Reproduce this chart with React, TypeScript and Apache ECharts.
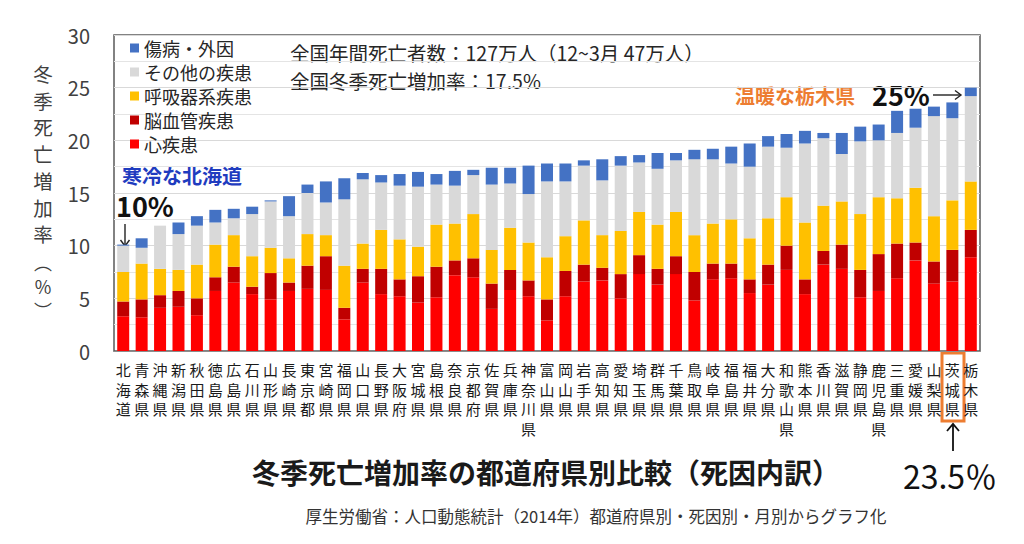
import React, { useEffect, useRef } from "react";
import * as echarts from "echarts";

const prefectures = [
  "北海道", "青森県", "沖縄県", "新潟県", "秋田県", "徳島県", "広島県", "石川県", "山形県", "長崎県",
  "東京都", "宮崎県", "福岡県", "山口県", "長野県", "大阪府", "宮城県", "島根県", "奈良県", "京都府",
  "佐賀県", "兵庫県", "神奈川県", "富山県", "岡山県", "岩手県", "高知県", "愛知県", "埼玉県", "群馬県",
  "千葉県", "鳥取県", "岐阜県", "福島県", "福井県", "大分県", "和歌山県", "熊本県", "香川県", "滋賀県",
  "静岡県", "鹿児島県", "三重県", "愛媛県", "山梨県", "茨城県", "栃木県",
];

// 心疾患
const heart = [
  3.3, 3.2, 4.1, 4.2, 3.4, 5.7, 6.5, 5.4, 4.9, 5.7,
  5.9, 5.8, 3.0, 6.5, 5.4, 5.2, 4.6, 5.1, 7.2, 7.0,
  4.0, 5.8, 5.2, 2.9, 5.2, 6.6, 6.7, 5.0, 7.3, 6.3,
  7.3, 4.8, 6.8, 6.9, 5.5, 6.3, 7.7, 5.4, 8.2, 7.8,
  5.1, 5.7, 6.9, 8.6, 6.4, 6.6, 8.9,
];
// 脳血管疾患
const cerebro = [
  1.4, 1.7, 1.2, 1.5, 1.6, 1.3, 1.5, 0.7, 2.5, 0.8,
  2.2, 3.2, 1.1, 1.3, 2.4, 1.6, 2.5, 2.9, 1.4, 1.8,
  2.4, 1.9, 1.5, 2.0, 2.4, 1.6, 1.2, 2.3, 1.8, 1.5,
  1.7, 2.7, 1.5, 1.4, 1.3, 1.9, 2.3, 1.4, 1.3, 2.3,
  2.6, 3.5, 3.3, 1.7, 2.1, 3.0, 2.6,
];
// 呼吸器系疾患
const respiratory = [
  2.8, 3.4, 2.5, 2.0, 3.2, 3.1, 3.0, 2.9, 2.4, 2.3,
  3.0, 2.0, 4.0, 2.4, 3.7, 3.8, 2.8, 4.0, 3.5, 4.2,
  3.2, 4.0, 3.6, 4.0, 3.3, 4.2, 3.1, 4.1, 4.1, 4.2,
  4.2, 3.5, 3.8, 4.2, 3.9, 4.4, 4.6, 5.4, 4.3, 4.1,
  5.3, 5.4, 4.3, 5.2, 4.3, 4.7, 4.6,
];
// その他の疾患
const other = [
  2.5, 1.5, 4.1, 3.4, 3.7, 2.1, 1.6, 4.0, 4.4, 4.0,
  3.9, 3.1, 6.3, 6.1, 4.5, 5.1, 5.7, 3.8, 3.6, 3.7,
  6.2, 4.2, 4.6, 7.2, 5.2, 5.2, 5.2, 6.2, 4.7, 5.3,
  4.9, 7.2, 6.1, 5.3, 6.8, 6.8, 4.7, 7.5, 6.4, 4.5,
  6.9, 5.4, 6.2, 5.7, 9.5, 7.8, 8.1,
];
// 傷病・外因
const injury = [
  0.1, 0.9, 0.0, 1.1, 0.9, 1.2, 0.9, 0.7, 0.1, 1.9,
  0.8, 2.0, 2.0, 0.6, 0.7, 1.1, 1.4, 1.0, 1.4, 0.5,
  1.6, 1.5, 2.7, 1.7, 1.7, 0.5, 2.0, 0.9, 0.7, 1.5,
  0.7, 0.9, 1.0, 1.6, 2.2, 1.0, 1.3, 1.2, 0.5, 2.0,
  1.4, 1.5, 2.1, 1.8, 0.9, 1.5, 0.8,
];

const seriesNames = ["心疾患", "脳血管疾患", "呼吸器系疾患", "その他の疾患", "傷病・外因"];
const seriesColors = ["#ff0000", "#c00000", "#ffc000", "#d9d9d9", "#4472c4"];
const legendOrder = ["傷病・外因", "その他の疾患", "呼吸器系疾患", "脳血管疾患", "心疾患"];
const yAxisNameChars = ["冬", "季", "死", "亡", "増", "加", "率"];

const FONT = '"Noto Sans CJK JP", "Noto Sans", sans-serif';

function txt(x: number, y: number, text: string, opts: any = {}) {
  const align = opts.align || "left";
  const valign = opts.valign || "middle";
  return {
    type: "text",
    x,
    y,
    silent: true,
    style: {
      text,
      fontSize: opts.fontSize || 16,
      fontWeight: opts.fontWeight || "normal",
      fontFamily: FONT,
      fill: opts.fill || "#262626",
      align,
      verticalAlign: valign,
      textAlign: align,
      textVerticalAlign: valign,
      lineHeight: opts.lineHeight,
    },
  };
}

function line(x1: number, y1: number, x2: number, y2: number, color = "#111", w = 1.6) {
  return {
    type: "line",
    silent: true,
    shape: { x1, y1, x2, y2 },
    style: { stroke: color, lineWidth: w },
  };
}

function poly(points: number[][], color = "#111", w = 1.6) {
  return {
    type: "polyline",
    silent: true,
    shape: { points },
    style: { stroke: color, lineWidth: w, fill: "none" },
  };
}

export default function App() {
  const ref = useRef<HTMLDivElement>(null);

  useEffect(() => {
    if (!ref.current) return;
    const chart = echarts.init(ref.current, null, { renderer: "svg" });
    const data = [heart, cerebro, respiratory, other, injury];

    const yNameEls = yAxisNameChars.map((c, i) =>
      txt(43, 73.5 + i * 26.7, c, { fontSize: 19.5, align: "center", fill: "#404040" })
    );

    const option: any = {
      animation: false,
      backgroundColor: "#ffffff",
      textStyle: { fontFamily: FONT },
      grid: {
        left: 114,
        right: 44,
        top: 35,
        bottom: 193,
        show: true,
        borderColor: "#595959",
        borderWidth: 1.5,
        containLabel: false,
      },
      legend: {
        data: legendOrder,
        orient: "vertical",
        left: 125,
        top: 34,
        icon: "rect",
        itemWidth: 9,
        itemHeight: 9,
        itemGap: 6,
        textStyle: { fontSize: 18, color: "#262626", fontFamily: FONT, lineHeight: 18 },
        selectedMode: false,
      },
      xAxis: {
        type: "category",
        data: prefectures,
        axisTick: { show: false },
        axisLine: { show: true, lineStyle: { color: "#8c8c8c" } },
        axisLabel: {
          interval: 0,
          margin: 9,
          fontSize: 15,
          lineHeight: 19.5,
          color: "#1a1a1a",
          fontFamily: FONT,
          verticalAlign: "top",
          formatter: (v: string) => v.split("").join("\n"),
        },
      },
      yAxis: {
        type: "value",
        min: 0,
        max: 30,
        interval: 5,
        axisLine: { show: false },
        axisTick: { show: false },
        axisLabel: { fontSize: 20, color: "#404040", margin: 24, fontFamily: FONT },
        splitLine: { show: true, lineStyle: { color: "#d9d9d9", width: 1 } },
        minorTick: { show: false, splitNumber: 2 },
        minorSplitLine: { show: true, lineStyle: { color: "#e4e4e4", width: 1 } },
      },
      series: seriesNames.map((name, i) => ({
        name,
        type: "bar",
        stack: "total",
        barWidth: 12,
        data: data[i],
        itemStyle: { color: seriesColors[i] },
        emphasis: { disabled: true },
      })),
      graphic: [
        // y-axis vertical name
        ...yNameEls,
        txt(43, 262, "︵", { fontSize: 18, align: "center", fill: "#404040" }),
        txt(43, 286, "%", { fontSize: 18, align: "center", fill: "#404040" }),
        txt(43, 310, "︶", { fontSize: 18, align: "center", fill: "#404040" }),
        // national annotations
        txt(290, 52.5, "全国年間死亡者数：127万人（12~3月 47万人）", { fontSize: 19.5, fill: "#262626" }),
        txt(290, 80, "全国冬季死亡増加率：17.5%", { fontSize: 19.5, fill: "#262626" }),
        // Hokkaido callout
        txt(122, 175, "寒冷な北海道", { fontSize: 20, fontWeight: "bold", fill: "#1f3cbf" }),
        txt(116, 205, "10%", { fontSize: 27, fontWeight: "bold", fill: "#111" }),
        line(125, 224, 125, 246, "#222", 1.4),
        poly([[120.5, 240], [125, 246], [129.5, 240]], "#222", 1.4),
        // Tochigi callout
        txt(735, 95, "温暖な栃木県", { fontSize: 20, fontWeight: "bold", fill: "#ed7d31" }),
        txt(872, 94, "25%", { fontSize: 27, fontWeight: "bold", fill: "#111" }),
        line(933, 95, 961, 95, "#222", 1.4),
        poly([[955, 90.5], [961, 95], [955, 99.5]], "#222", 1.4),
        // Ibaraki highlight
        {
          type: "rect",
          silent: true,
          shape: { x: 942, y: 353, width: 22, height: 68 },
          style: { stroke: "#ed7d31", lineWidth: 3, fill: "none" },
        },
        line(953, 424, 953, 451, "#111", 1.8),
        poly([[947, 431], [953, 424], [959, 431]], "#111", 1.8),
        txt(950, 475, "23.5％", { fontSize: 32, align: "center", fill: "#111" }),
        // titles
        txt(546, 472, "冬季死亡増加率の都道府県別比較（死因内訳）", {
          fontSize: 28,
          fontWeight: "bold",
          align: "center",
          fill: "#1a1a1a",
        }),
        txt(596, 516, "厚生労働省：人口動態統計（2014年）都道府県別・死因別・月別からグラフ化", {
          fontSize: 16.5,
          align: "center",
          fill: "#333333",
        }),
      ],
    };

    chart.setOption(option);
    return () => {
      chart.dispose();
    };
  }, []);

  return <div ref={ref} style={{ width: 1024, height: 544, position: "absolute", left: 0, top: 0 }} />;
}
